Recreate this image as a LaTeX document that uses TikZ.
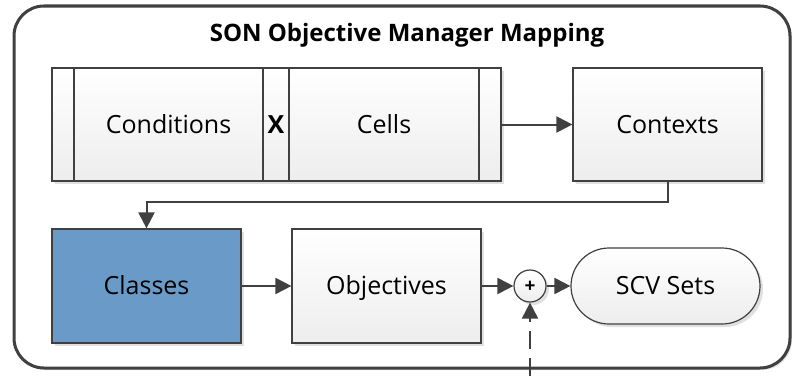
\documentclass[tikz,border=0pt]{standalone}
\usepackage{fontspec}
\setmainfont{Open Sans}
\usetikzlibrary{arrows.meta,shadows}

\definecolor{edgegray}{HTML}{404040}
\definecolor{classblue}{HTML}{6A9BC8}

\begin{document}
\begin{tikzpicture}[x=1pt,y=1pt,
    box/.style={draw=edgegray, line width=1.2pt, inner sep=0pt,
      top color=white, bottom color=black!7,
      minimum width=189pt, minimum height=113pt,
      font=\fontsize{25}{30}\selectfont, text height=17.8pt, text depth=0pt,
      drop shadow={shadow xshift=3pt, shadow yshift=-3pt, fill=black!12, opacity=1}},
    flow/.style={draw=edgegray, line width=2pt, -{Triangle[length=16pt,width=16pt]}}]
    \useasboundingbox (0,0) rectangle (792,376);

    \node[draw=edgegray, line width=3pt, rounded corners=30pt,
      minimum width=776pt, minimum height=362pt,
      drop shadow={shadow xshift=2pt, shadow yshift=-2pt, fill=black!12, opacity=1},
      fill=white] (frame) at (402,189) {};
    \node[font=\fontsize{24}{28}\selectfont\bfseries, text height=17pt, text depth=0pt] (title) at (407,343) {SON Objective Manager Mapping};

    \node[box, minimum width=22pt] (condbar) at (63,251.5) {};
    \node[box] (cond) at (168.5,251.5) {Conditions};
    \node[box, minimum width=26pt, font=\fontsize{25}{30}\selectfont\bfseries] (xcell) at (276,251.5) {X};
    \node[box, minimum width=190pt] (cells) at (384,251.5) {Cells};
    \node[box, minimum width=22pt] (cellsbar) at (490,251.5) {};
    \node[box] (ctx) at (667.5,251.5) {Contexts};

    \node[box, minimum height=114pt, top color=classblue, bottom color=classblue] (classes) at (146.5,90) {Classes};
    \node[box, minimum height=114pt] (obj) at (386.5,90) {Objectives};
    \node[box, circle, minimum width=32pt, minimum height=32pt, text height=13pt,
      font=\fontsize{19}{22}\selectfont\bfseries] (plus) at (530,90) {+};
    \node[box, minimum height=76pt, rounded corners=38pt] (scv) at (665.5,90) {SCV Sets};
    \coordinate (feed) at (530,0);

    \draw[flow] (cellsbar) -- (ctx);
    \draw[flow] (ctx.south) -- ++(0,-20) -| (classes.north);
    \draw[flow] (classes) -- (obj);
    \draw[flow] (obj) -- (plus);
    \draw[flow] (plus) -- (scv);
    \draw[flow, dash pattern=on 18pt off 9pt] (feed) -- (plus);
\end{tikzpicture}
\end{document}
